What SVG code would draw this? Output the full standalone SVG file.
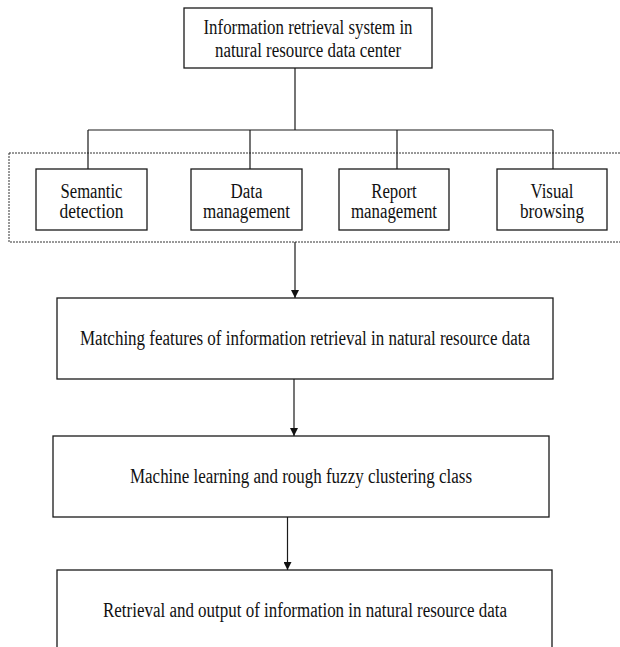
<svg xmlns="http://www.w3.org/2000/svg" width="620" height="647" viewBox="0 0 620 647">
<style>
.box{fill:#fff;stroke:#1a1a1a;stroke-width:1.3}
.t{font-family:"Liberation Serif","Times New Roman",serif;font-size:20px;fill:#111;text-anchor:middle}
.ln{fill:none;stroke:#1a1a1a;stroke-width:1.2}
.dot{fill:none;stroke:#333;stroke-width:1;stroke-dasharray:2 1}
</style>
<defs>
<marker id="arr" viewBox="0 0 10 10" refX="10" refY="5" markerWidth="8" markerHeight="8" markerUnits="userSpaceOnUse" orient="auto">
<path d="M0,0 L10,5 L0,10 z" fill="#111"/>
</marker>
</defs>
<rect class="dot" x="9" y="153" width="620" height="89"/>
<g id="connectors">
<path class="ln" d="M295,68 V130 M88,130 H553 M88,130 V169 M250,130 V169 M397,130 V169 M553,130 V169"/>
<path class="ln" d="M295,242 V298" marker-end="url(#arr)"/>
<path class="ln" d="M294,379 V436" marker-end="url(#arr)"/>
<path class="ln" d="M287.5,517 V570" marker-end="url(#arr)"/>
</g>
<g id="top">
<rect class="box" x="184" y="8" width="248" height="60"/>
<text class="t" x="308" y="33.5" textLength="209" lengthAdjust="spacingAndGlyphs">Information retrieval system in</text>
<text class="t" x="308" y="57" textLength="186" lengthAdjust="spacingAndGlyphs">natural resource data center</text>
</g>
<g id="semantic">
<rect class="box" x="36" y="169" width="111" height="61"/>
<text class="t" x="91.5" y="198" textLength="62" lengthAdjust="spacingAndGlyphs">Semantic</text>
<text class="t" x="91.5" y="218" textLength="64" lengthAdjust="spacingAndGlyphs">detection</text>
</g>
<g id="data">
<rect class="box" x="191" y="169" width="111" height="61"/>
<text class="t" x="246.5" y="198" textLength="32" lengthAdjust="spacingAndGlyphs">Data</text>
<text class="t" x="246.5" y="218" textLength="87" lengthAdjust="spacingAndGlyphs">management</text>
</g>
<g id="report">
<rect class="box" x="339" y="169" width="110" height="61"/>
<text class="t" x="394" y="198" textLength="45.5" lengthAdjust="spacingAndGlyphs">Report</text>
<text class="t" x="394" y="218" textLength="86" lengthAdjust="spacingAndGlyphs">management</text>
</g>
<g id="visual">
<rect class="box" x="497" y="169" width="110" height="61"/>
<text class="t" x="552" y="198" textLength="43" lengthAdjust="spacingAndGlyphs">Visual</text>
<text class="t" x="552" y="218" textLength="64" lengthAdjust="spacingAndGlyphs">browsing</text>
</g>
<g id="matching">
<rect class="box" x="57" y="298" width="496" height="81"/>
<text class="t" x="305" y="345" textLength="450" lengthAdjust="spacingAndGlyphs">Matching features of information retrieval in natural resource data</text>
</g>
<g id="machine">
<rect class="box" x="53" y="436" width="496" height="81"/>
<text class="t" x="301" y="483" textLength="342" lengthAdjust="spacingAndGlyphs">Machine learning and rough fuzzy clustering class</text>
</g>
<g id="retrieval">
<rect class="box" x="57" y="570" width="495" height="90"/>
<text class="t" x="305" y="617" textLength="404" lengthAdjust="spacingAndGlyphs">Retrieval and output of information in natural resource data</text>
</g>
</svg>
